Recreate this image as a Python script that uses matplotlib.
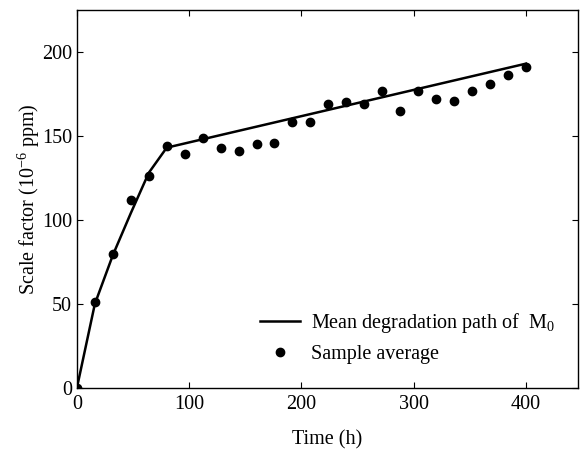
import numpy as np
import matplotlib.pyplot as plt

plt.rcParams['font.family'] = ['Liberation Serif', 'DejaVu Serif']
plt.rcParams['mathtext.fontset'] = 'custom'
plt.rcParams['mathtext.rm'] = 'Liberation Serif'
plt.rcParams['mathtext.it'] = 'Liberation Serif:italic'

# ----------------------------
# Data
# ----------------------------

time_avg = [0, 16, 32, 48, 64, 80, 96, 112, 128, 144, 160, 176, 192, 208,
            224, 240, 256, 272, 288, 304, 320, 336, 352, 368, 384, 400]
sample_avg = [0, 51, 80, 112, 126, 144, 139, 149, 143, 141, 145, 146, 158, 158,
              169, 170, 169, 177, 165, 177, 172, 171, 177, 181, 186, 191]

time_path = [0, 16, 32, 48, 64, 80, 400]
mean_path = [0, 50, 79, 104, 128, 143, 193]

# ----------------------------
# Plot
# ----------------------------

fig, ax = plt.subplots(figsize=(5.87, 4.49), dpi=100)
fig.subplots_adjust(left=0.131, right=0.984, top=0.978, bottom=0.136)

ax.plot(time_path, mean_path, color='black', lw=1.8,
        label='Mean degradation path of  M$_0$')
ax.plot(time_avg, sample_avg, 'o', color='black', ms=6,
        label='Sample average')

ax.set_xlim(0, 446)
ax.set_ylim(0, 225)
ax.set_xticks([0, 100, 200, 300, 400])
ax.set_yticks([0, 50, 100, 150, 200])

ax.tick_params(direction='in', top=True, right=True, labelsize=14.5, length=4)
ax.tick_params(axis='x', pad=5)
for s in ax.spines.values():
    s.set_linewidth(1.0)

ax.set_xlabel('Time (h)', fontsize=14.5, labelpad=12)
ax.set_ylabel('Scale factor (10$^{-6}$ ppm)', fontsize=14.5, labelpad=0)

ax.legend(loc='lower right', frameon=False, fontsize=14.5,
          handlelength=2.0, handletextpad=0.5, labelspacing=0.5,
          bbox_to_anchor=(0.99, 0.015))

plt.savefig('out.png', dpi=100)
